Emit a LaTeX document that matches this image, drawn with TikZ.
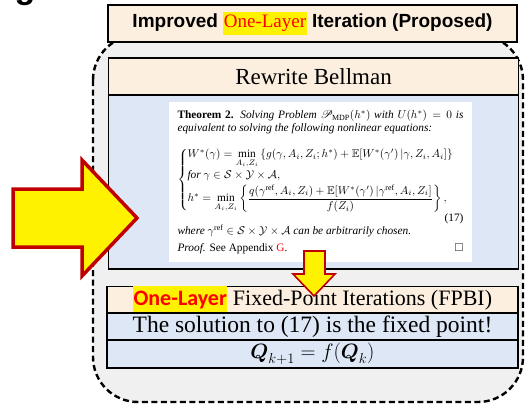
\documentclass[tikz,border=0pt]{standalone}
\usepackage{amsmath,amssymb,mathrsfs}
\usepackage{fontspec}
\setmainfont{Liberation Serif}
\newfontfamily\headsans{Liberation Sans}
\newfontfamily\calsans{Carlito}
\newfontfamily\tnr{Liberation Serif}
\definecolor{peach}{HTML}{FCEFE0}
\definecolor{paleblue}{HTML}{DDE7F6}
\definecolor{panelgray}{HTML}{F0F0F0}
\definecolor{arrowred}{HTML}{C00000}
\newcommand\hlbox[1]{\begingroup\setlength{\fboxsep}{0.6pt}\colorbox{yellow}{\strut #1}\endgroup}
\begin{document}
\begin{tikzpicture}[x=1pt,y=-1pt,
  panel/.style={draw=black, line width=2.4pt, dash pattern=on 6pt off 3.5pt, fill=panelgray, rounded corners=45pt},
  hbox/.style={draw=black, line width=1.6pt, fill=peach, inner sep=0pt, minimum width=#1},
  bbox/.style={draw=black, line width=1.8pt, fill=paleblue, inner sep=0pt, minimum width=#1},
  fatarrow/.style={fill=yellow, draw=arrowred, line join=miter},
  ]
\useasboundingbox (0,0) rectangle (525,408);
\node[anchor=base, inner sep=0pt, font=\headsans\bfseries\fontsize{34}{34}\selectfont] (g) at (25,-2) {g};
% dashed panel
\draw[panel] (93,35) rectangle (523,402);
% title
\node[hbox=409pt, minimum height=37pt] (title) at (312.5,23.5)
  {\headsans\bfseries\fontsize{19}{22}\selectfont Improved \hlbox{\tnr\mdseries\color{red}One-Layer} Iteration (Proposed)};
% rewrite bellman
\node[bbox=410pt, minimum height=174pt] (rwbody) at (313.5,182) {};
\node[hbox=410pt, minimum height=37pt, line width=1.8pt] (rwhead) at (313.5,76.5)
  {\fontsize{23}{26}\selectfont Rewrite Bellman};
\node[fill=white, inner sep=0pt, minimum width=303pt, minimum height=160pt] (thm) at (320.5,182)
  {\resizebox{286pt}{!}{\begin{minipage}{252pt}\tnr\fontsize{10}{11.5}\selectfont
  \noindent\textbf{Theorem 2.} \textit{Solving Problem $\mathscr{P}_{\mathrm{MDP}}(h^*)$ with $U(h^*)=0$ is equivalent to solving the following nonlinear equations:}
  \begin{equation}\tag{17}
  \begin{cases} W^*(\gamma) = \min\limits_{A_i,Z_i}\left\{g(\gamma,A_i,Z_i;h^*)+\mathbb{E}[W^*(\gamma')\,|\gamma,Z_i,A_i]\right\}\\[1pt]
  \textit{for } \gamma\in\mathcal{S}\times\mathcal{Y}\times\mathcal{A},\\[1pt]
  h^* = \min\limits_{A_i,Z_i}\left\{\dfrac{q(\gamma^{\mathrm{ref}},A_i,Z_i)+\mathbb{E}[W^*(\gamma')\,|\gamma^{\mathrm{ref}},A_i,Z_i]}{f(Z_i)}\right\},
  \end{cases}
  \end{equation}
  \textit{where $\gamma^{\mathrm{ref}}\in\mathcal{S}\times\mathcal{Y}\times\mathcal{A}$ can be arbitrarily chosen.}\par\smallskip
  \noindent\textit{Proof.} See Appendix {\color{red}G}. \hfill$\square$
  \end{minipage}}};
% FPBI rows
\node[hbox=411pt, minimum height=26pt, line width=1.8pt] (fpbi) at (312.5,300)
  {\fontsize{22}{26}\selectfont\hlbox{\calsans\bfseries\color{red}One-Layer} Fixed-Point Iterations (FPBI)};
\node[bbox=411pt, minimum height=27pt] (sol) at (312.5,326.5)
  {\fontsize{23.5}{26}\selectfont The solution to (17) is the fixed point!};
\node[bbox=411pt, minimum height=28pt] (qrow) at (312.5,354)
  {\fontsize{20}{24}\selectfont $\boldsymbol{Q}_{k+1} = f(\boldsymbol{Q}_k)$};
% arrows
\draw[fatarrow, line width=3.5pt] (13,189) -- (82,189) -- (82,160) -- (137,218) -- (82,276) -- (82,247) -- (13,247) -- cycle;
\draw[fatarrow, line width=1.6pt] (304,251) -- (325,251) -- (325,274) -- (335,274) -- (314,296) -- (293,274) -- (304,274) -- cycle;
\end{tikzpicture}
\end{document}
